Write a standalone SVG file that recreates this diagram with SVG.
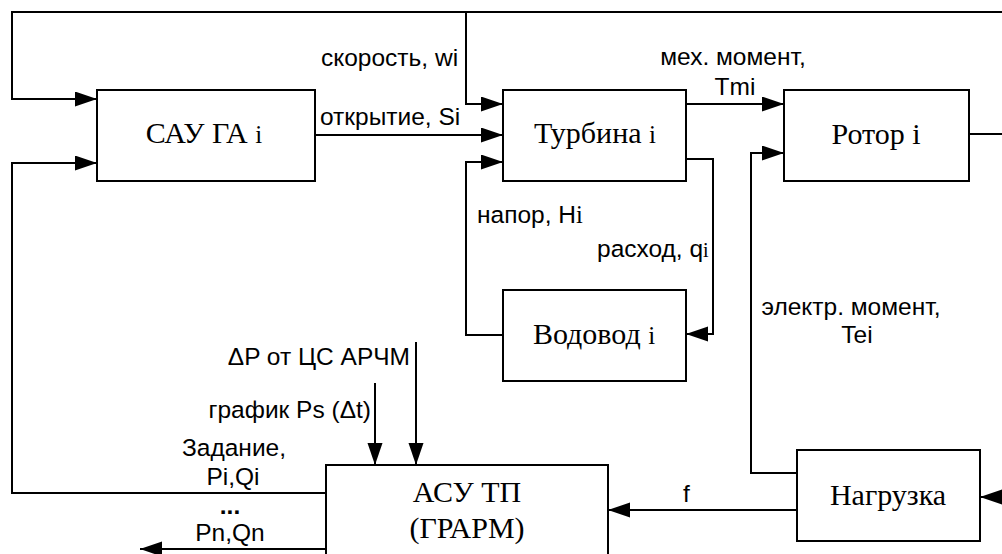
<svg xmlns="http://www.w3.org/2000/svg" width="1002" height="554" viewBox="0 0 1002 554">
<style>
.box{fill:#fff;stroke:#000;stroke-width:2}
.ser{font-family:"Liberation Serif","Times New Roman",serif;font-size:30px;fill:#000;text-anchor:middle}
.san{font-family:"Liberation Sans",Arial,sans-serif;font-size:24.5px;fill:#000}
.con{fill:none;stroke:#000;stroke-width:2}
.si{font-family:"Liberation Serif","Times New Roman",serif}
</style>
<defs>
<marker id="ah" markerUnits="userSpaceOnUse" markerWidth="24" markerHeight="16" refX="22" refY="7.5" orient="auto">
<path d="M0,0 L22,7.5 L0,15 z" fill="#000"/>
</marker>
</defs>
<rect width="1002" height="554" fill="#fff"/>
<g id="connectors">
<path class="con" d="M969,134 H1006 V12 H12 V99 H97" marker-end="url(#ah)"/>
<path class="con" d="M466,12 V104 H503" marker-end="url(#ah)"/>
<path class="con" d="M315,135 H503" marker-end="url(#ah)"/>
<path class="con" d="M503,335 H466 V162 H503" marker-end="url(#ah)"/>
<path class="con" d="M686,104 H784" marker-end="url(#ah)"/>
<path class="con" d="M686,159 H713 V334 H686" marker-end="url(#ah)"/>
<path class="con" d="M797,473 H751 V153 H784" marker-end="url(#ah)"/>
<path class="con" d="M797,510 H608" marker-end="url(#ah)"/>
<path class="con" d="M1006,497 H980" marker-end="url(#ah)"/>
<path class="con" d="M326,493 H12 V163 H97" marker-end="url(#ah)"/>
<path class="con" d="M326,549 H140" marker-end="url(#ah)"/>
<path class="con" d="M416,342 V465" marker-end="url(#ah)"/>
<path class="con" d="M375,383 V465" marker-end="url(#ah)"/>
</g>
<g id="labels">
<text class="san" x="321" y="66">скорость, wi</text>
<text class="san" x="320" y="125">открытие, Si</text>
<text class="san" x="733" y="65" text-anchor="middle">мех. момент,</text>
<text class="san" x="735" y="95" text-anchor="middle">Tmi</text>
<text class="san" x="477" y="223">напор, H<tspan class="si">i</tspan></text>
<text class="san" x="597" y="257">расход, q<tspan class="si" font-size="20">i</tspan></text>
<text class="san" x="851" y="315" text-anchor="middle">электр. момент,</text>
<text class="san" x="857" y="343" text-anchor="middle">Tei</text>
<text class="san" x="410" y="365" text-anchor="end">ΔP от ЦС АРЧМ</text>
<text class="san" x="371" y="418" text-anchor="end">график Ps (Δt)</text>
<text class="san" x="234" y="456" text-anchor="middle">Задание,</text>
<text class="san" x="233" y="485" text-anchor="middle">Pi,Qi</text>
<text class="san" x="230" y="514" text-anchor="middle" font-weight="bold" font-size="20">...</text>
<text class="san" x="230" y="541" text-anchor="middle">Pn,Qn</text>
<text class="san" x="683" y="502">f</text>
</g>
<g id="sau">
<rect class="box" x="97" y="90" width="218" height="91"/>
<text class="ser" x="204" y="143">САУ ГА <tspan font-size="25">i</tspan></text>
</g>
<g id="turbine">
<rect class="box" x="503" y="90" width="183" height="91"/>
<text class="ser" x="595" y="143">Турбина <tspan font-size="25">i</tspan></text>
</g>
<g id="rotor">
<rect class="box" x="784" y="90" width="185" height="91"/>
<text class="ser" x="876" y="144">Ротор i</text>
</g>
<g id="vodovod">
<rect class="box" x="503" y="290" width="183" height="91"/>
<text class="ser" x="594" y="344">Водовод <tspan font-size="25">i</tspan></text>
</g>
<g id="nagruzka">
<rect class="box" x="797" y="450" width="183" height="91"/>
<text class="ser" x="888" y="505">Нагрузка</text>
</g>
<g id="asu">
<rect class="box" x="326" y="465" width="282" height="100"/>
<text class="ser" x="467" y="502">АСУ ТП</text>
<text class="ser" x="467" y="538">(ГРАРМ)</text>
</g>
</svg>
